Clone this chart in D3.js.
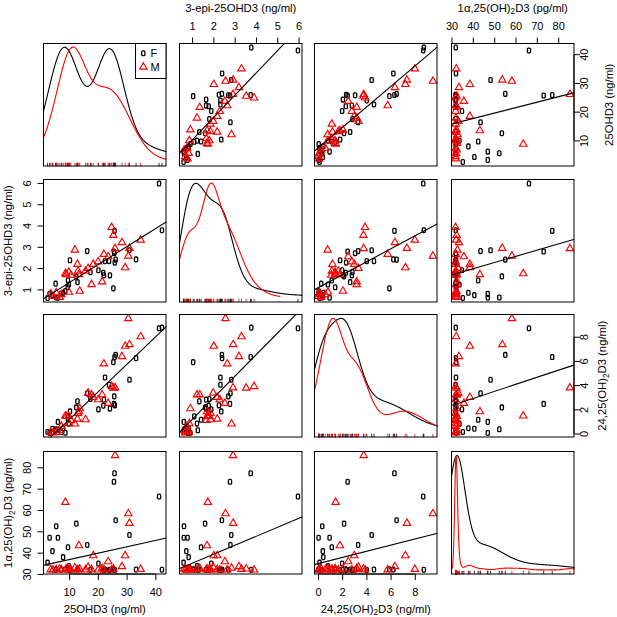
<!DOCTYPE html>
<html><head><meta charset="utf-8">
<script src="https://cdn.jsdelivr.net/npm/d3@7"></script>
<style>
body{margin:0;background:#fff}
svg{display:block}
text{font-family:"Liberation Sans",Arial,Helvetica,sans-serif;fill:#000}
</style>
</head><body>
<svg id="c" width="617" height="617"></svg>
<script>
// ---------------- data ----------------
const sex = [
 "F","F","F","F","F","F","F","F","F","F","F","F","F","F","F","F","F","F","F","F","F","F","F","F","F","F","F","F","F","F","F","F","F",
 "M","M","M","M","M","M","M","M","M","M","M","M","M","M","M","M","M","M","M","M","M","M","M","M","M","M","M","M","M","M","M"
];
const ohd25 = [
 42.3,41.3,33.3,31.0,26.2,25.8,25.6,25.9,25.7,25.4,24.2,23.9,22.5,22.1,21.9,20.2,17.4,16.3,12.5,10.3,9.6,12.9,9.9,9.5,8.7,7.9,7.3,6.1,5.5,5.3,4.2,3.2,2.5,
 34.9,31.0,30.6,29.5,28.4,26.0,24.8,25.4,22.1,23.6,21.5,20.1,18.4,17.8,16.6,15.7,13.7,13.4,13.1,12.9,12.0,10.6,9.9,8.7,9.9,7.3,6.7,5.5,4.4,3.6,9.0
];
const epi25 = [
 3.78,5.97,2.41,2.84,2.40,3.75,2.78,2.26,2.70,1.05,1.66,2.33,2.33,1.66,1.78,1.90,1.81,2.80,1.61,2.37,1.42,1.34,1.23,1.10,0.92,0.84,0.80,0.61,0.62,1.27,0.73,0.79,0.60,
 3.32,2.93,2.57,2.02,3.20,2.92,3.91,3.54,2.65,2.54,1.36,2.30,2.18,1.23,1.99,1.86,0.92,1.70,1.86,2.18,2.85,1.67,1.81,1.74,0.87,0.76,0.63,0.84,0.68,0.79,1.70
];
const oh2425 = [
 8.75,8.70,6.23,4.44,6.50,6.32,2.45,2.33,3.07,5.90,2.06,4.03,4.63,2.80,2.30,2.00,2.85,3.32,2.16,1.83,1.14,2.66,0.82,1.42,0.06,0.44,0.11,0.96,0.35,0.27,0.40,0.05,0.13,
 8.01,7.35,9.50,7.22,6.36,3.78,3.89,3.76,5.76,2.50,3.20,2.80,3.00,3.20,3.35,1.15,2.06,1.81,1.68,1.20,0.80,1.10,1.42,1.46,0.82,0.60,0.27,0.10,0.05,0.10,1.42
];
const oh1a25 = [
 32.0,66.3,32.1,48.3,55.2,77.2,73.2,31.9,32.0,32.2,32.0,31.9,32.1,32.0,32.2,34.9,32.0,43.6,53.6,31.9,42.5,32.1,33.7,32.0,32.2,37.9,32.0,47.0,52.4,31.9,40.7,47.0,35.3,
 32.2,53.8,58.3,38.6,33.5,85.5,31.9,32.4,32.0,35.8,32.6,31.9,38.6,32.1,33.2,32.0,32.3,43.3,31.9,32.1,32.8,32.0,32.2,63.6,31.9,32.0,32.4,32.1,31.9,32.0,32.5
];
const groups = ["F","M"];
const groupColors = ["#000000","#ff0000"];
const ticks25 = [10,20,30,40];
const ticksEpi = [1,2,3,4,5,6];
const ticks2425 = [0,2,4,6,8];
const ticks1a = [30,40,50,60,70,80];
const labels = [
  [["25OHD3 (ng/ml)",0]],
  [["3-epi-25OHD3 (ng/ml)",0]],
  [["24,25(OH)",0],["2",1],["D3 (ng/ml)",0]],
  [["1\u03b1,25(OH)",0],["2",1],["D3 (pg/ml)",0]]
];

// ---------------- layout ----------------
const vars = [ohd25, epi25, oh2425, oh1a25];
const tickSets = [ticks25, ticksEpi, ticks2425, ticks1a];
const P = [43, 179, 314, 451], S = 123.5;
const svg = d3.select("#c");
const doms = vars.map(v => { const [a,b] = d3.extent(v); const r = b - a; return [a - 0.04*r, b + 0.04*r]; });
const xScale = (k, j) => d3.scaleLinear().domain(doms[k]).range([P[j], P[j] + S]);
const yScale = (k, i) => d3.scaleLinear().domain(doms[k]).range([P[i] + S, P[i]]);

const defs = svg.append("defs");
for (let i = 0; i < 4; i++) for (let j = 0; j < 4; j++) {
  defs.append("clipPath").attr("id", `cp${i}${j}`).append("rect")
    .attr("x", P[j]).attr("y", P[i]).attr("width", S).attr("height", S);
}

const triPath = "M0,-4.3L3.7,2.1L-3.7,2.1Z";
function drawMarker(g, gi, x, y) {
  if (gi === 0) {
    g.append("rect").attr("x", x - 1.6).attr("y", y - 2.4).attr("width", 3.2).attr("height", 4.8)
      .attr("rx", 1).attr("fill", "none").attr("stroke", groupColors[0]).attr("stroke-width", 1.3);
  } else {
    g.append("path").attr("d", triPath).attr("transform", `translate(${x},${y})`)
      .attr("fill", "none").attr("stroke", groupColors[1]).attr("stroke-width", 1.15);
  }
}

const phi = u => Math.exp(-0.5*u*u) / Math.sqrt(2*Math.PI);
function nrd0(x) {
  const s = x.slice().sort((a,b)=>a-b);
  const sd = d3.deviation(s);
  const iqr = d3.quantileSorted(s, 0.75) - d3.quantileSorted(s, 0.25);
  let lo = Math.min(sd, iqr / 1.34);
  if (!lo) lo = sd || Math.abs(s[0]) || 1;
  return 0.9 * lo * Math.pow(s.length, -0.2);
}
// adaptive kernel density (pilot fixed-bandwidth estimate, local factors (p/g)^-1/2)
function akde(x) {
  const bw = nrd0(x);
  const [a, b] = d3.extent(x);
  const from = a - 3*bw, to = b + 3*bw, n = 500;
  const pilot = x.map(xi => d3.mean(x, xj => phi((xj - xi) / bw)) / bw);
  const g = Math.exp(d3.mean(pilot, p => Math.log(p)));
  const lam = pilot.map(p => Math.pow(p / g, -0.5));
  const pts = [];
  for (let t = 0; t < n; t++) {
    const x0 = from + (to - from) * t / (n - 1);
    let s = 0;
    x.forEach((xi, k) => { const h = bw * lam[k]; s += phi((xi - x0) / h) / h; });
    pts.push([x0, s / x.length]);
  }
  return pts;
}

// panels
for (let i = 0; i < 4; i++) for (let j = 0; j < 4; j++) {
  const X = xScale(j, j), Y = yScale(i, i);
  const g = svg.append("g").attr("clip-path", `url(#cp${i}${j})`);
  if (i === j) {
    const v = vars[i];
    const [mn, mx] = d3.extent(v);
    groups.forEach((grp, gi) => {
      const xx = v.filter((_, n) => sex[n] === grp);
      const d = akde(xx);
      const dr = d3.extent(d, p => p[1]);
      const line = d3.line().x(p => X(p[0])).y(p => Y(mn + p[1] * (mx - mn) / (dr[1] - dr[0])));
      g.append("path").attr("d", line(d)).attr("fill", "none")
        .attr("stroke", groupColors[gi]).attr("stroke-width", 1.1);
      xx.forEach(val => {
        g.append("line").attr("x1", X(val)).attr("x2", X(val))
          .attr("y1", P[i] + S).attr("y2", P[i] + S - 0.03 * S)
          .attr("stroke", groupColors[gi]).attr("stroke-width", 0.8);
      });
    });
  } else {
    const xv = vars[j], yv = vars[i];
    groups.forEach((grp, gi) => {
      xv.forEach((val, n) => { if (sex[n] === grp) drawMarker(g, gi, X(val), Y(yv[n])); });
    });
    // least-squares line over all points
    const mx = d3.mean(xv), my = d3.mean(yv);
    let sxy = 0, sxx = 0;
    xv.forEach((val, n) => { sxy += (val - mx) * (yv[n] - my); sxx += (val - mx) * (val - mx); });
    const b = sxy / sxx, a = my - b * mx;
    const [d0, d1] = doms[j];
    g.append("line").attr("x1", X(d0)).attr("y1", Y(a + b*d0)).attr("x2", X(d1)).attr("y2", Y(a + b*d1))
      .attr("stroke", "#000").attr("stroke-width", 1.1);
  }
  svg.append("rect").attr("x", P[j] + 0.5).attr("y", P[i] + 0.5).attr("width", S - 1).attr("height", S - 1)
    .attr("fill", "none").attr("stroke", "#000").attr("stroke-width", 1);
}

// legend in the first panel
const lg = svg.append("g");
lg.append("rect").attr("x", 135.5).attr("y", 43.5).attr("width", 30.5).attr("height", 35)
  .attr("fill", "#fff").attr("stroke", "#000");
drawMarker(lg, 0, 143.3, 53.3);
drawMarker(lg, 1, 143.3, 67);
lg.append("text").attr("x", 150.5).attr("y", 57.3).attr("font-size", 11).text(groups[0]);
lg.append("text").attr("x", 150.5).attr("y", 71).attr("font-size", 11).text(groups[1]);

// axes
const TF = 11, LF = 11.3;
function rLine(ag, scale, ticks, horiz) {
  ag.select(".domain").remove();
  const a = scale(ticks[0]), b = scale(ticks[ticks.length - 1]);
  if (horiz) ag.append("line").attr("x1", a).attr("x2", b).attr("stroke", "#000");
  else ag.append("line").attr("y1", a).attr("y2", b).attr("stroke", "#000");
  ag.selectAll("text").attr("font-size", TF).attr("font-family", null);
}
function addLabel(t, parts, fs) {
  parts.forEach(([s, sub], n) => {
    const ts = t.append("tspan").text(s);
    if (sub) ts.attr("font-size", fs * 0.72).attr("dy", 2.5);
    else if (n > 0 && parts[n-1][1]) ts.attr("dy", -2.5);
  });
}
// top (cols 2 and 4)
[1, 3].forEach(j => {
  const sc = xScale(j, j);
  const ag = svg.append("g").attr("transform", `translate(0,${P[0] + 0.5})`)
    .call(d3.axisTop(sc).tickValues(tickSets[j]).tickSize(6).tickPadding(8).tickFormat(d3.format("d")));
  rLine(ag, sc, tickSets[j], true);
  const t = svg.append("text").attr("x", P[j] + S/2).attr("y", 11.5).attr("text-anchor", "middle").attr("font-size", LF);
  addLabel(t, labels[j], LF);
});
// bottom (cols 1 and 3)
[0, 2].forEach(j => {
  const sc = xScale(j, j);
  const ag = svg.append("g").attr("transform", `translate(0,${P[3] + S - 0.5})`)
    .call(d3.axisBottom(sc).tickValues(tickSets[j]).tickSize(6).tickPadding(8).tickFormat(d3.format("d")));
  rLine(ag, sc, tickSets[j], true);
  const t = svg.append("text").attr("x", P[j] + S/2).attr("y", 612.5).attr("text-anchor", "middle").attr("font-size", LF);
  addLabel(t, labels[j], LF);
});
// left (rows 2 and 4)
[1, 3].forEach(i => {
  const sc = yScale(i, i);
  const ag = svg.append("g").attr("transform", `translate(${P[0] + 0.5},0)`)
    .call(d3.axisLeft(sc).tickValues(tickSets[i]).tickSize(6).tickFormat(d3.format("d")));
  rLine(ag, sc, tickSets[i], false);
  ag.selectAll(".tick text").attr("x", null).attr("dy", null).attr("text-anchor", "middle")
    .attr("transform", "translate(-13,0) rotate(-90)");
  const cy = P[i] + S/2;
  const t = svg.append("text").attr("transform", `translate(12,${cy}) rotate(-90)`).attr("text-anchor", "middle").attr("font-size", LF);
  addLabel(t, labels[i], LF);
});
// right (rows 1 and 3)
[0, 2].forEach(i => {
  const sc = yScale(i, i);
  const ag = svg.append("g").attr("transform", `translate(${P[3] + S - 0.5},0)`)
    .call(d3.axisRight(sc).tickValues(tickSets[i]).tickSize(6).tickFormat(d3.format("d")));
  rLine(ag, sc, tickSets[i], false);
  ag.selectAll(".tick text").attr("x", null).attr("dy", null).attr("text-anchor", "middle")
    .attr("transform", "translate(13.5,0) rotate(-90)");
  const cy = P[i] + S/2;
  const bx = labels[i].length > 1 ? 606 : 613;
  const t = svg.append("text").attr("transform", `translate(${bx},${cy}) rotate(-90)`).attr("text-anchor", "middle").attr("font-size", LF);
  addLabel(t, labels[i], LF);
});
</script>
</body></html>
